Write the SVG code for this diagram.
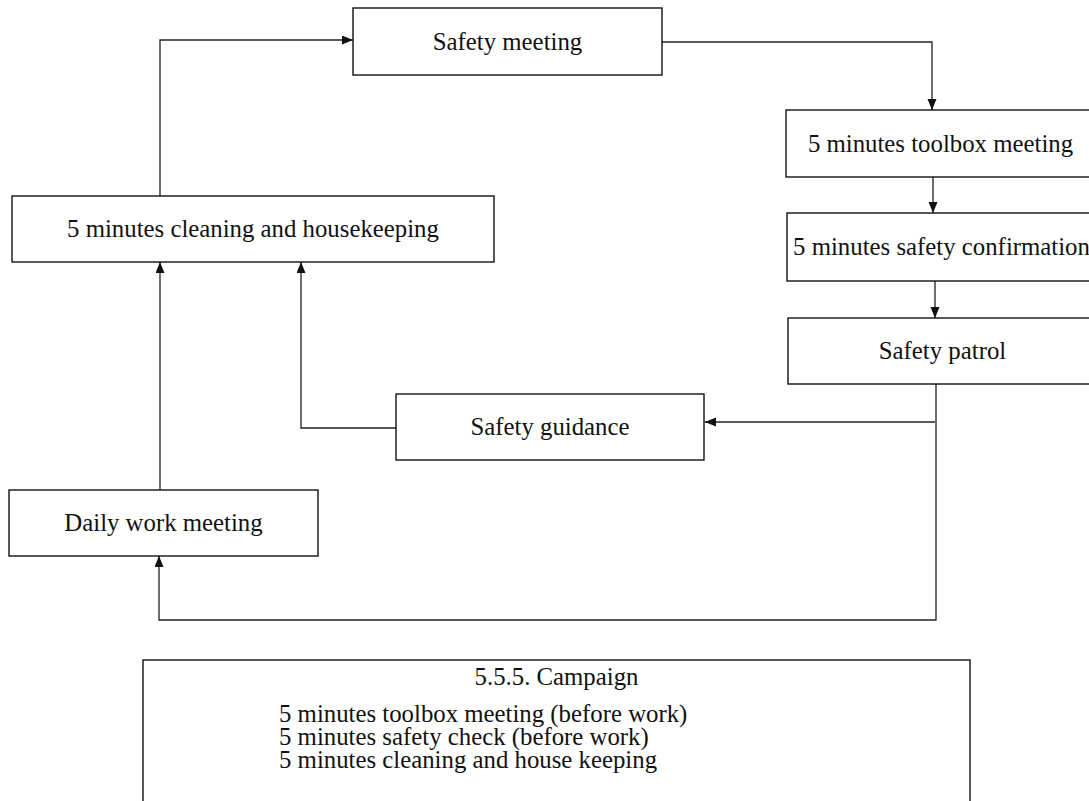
<svg xmlns="http://www.w3.org/2000/svg" width="1089" height="801" viewBox="0 0 1089 801">
<defs>
<style>
.box{fill:#fff;stroke:#111;stroke-width:1.4}
.lbl{font-family:"Liberation Serif","Times New Roman",serif;font-size:24.8px;fill:#111;text-anchor:middle}
.txt{font-family:"Liberation Serif","Times New Roman",serif;font-size:24.8px;fill:#111}
.con{fill:none;stroke:#222;stroke-width:1.3}
</style>
<marker id="arr" markerUnits="userSpaceOnUse" markerWidth="12" markerHeight="10" refX="11" refY="4.5" orient="auto">
<path d="M0,0 L11,4.5 L0,9 z" fill="#111"/>
</marker>
</defs>
<rect width="1089" height="801" fill="#fff"/>
<g id="connectors">
<path class="con" d="M160,196 V40 H353" marker-end="url(#arr)"/>
<path class="con" d="M662,42 H932 V110" marker-end="url(#arr)"/>
<path class="con" d="M933,177 V213" marker-end="url(#arr)"/>
<path class="con" d="M935,281 V318" marker-end="url(#arr)"/>
<path class="con" d="M936,384 V620 H159 V556" marker-end="url(#arr)"/>
<path class="con" d="M935,422 H705" marker-end="url(#arr)"/>
<path class="con" d="M396,428 H301 V262" marker-end="url(#arr)"/>
<path class="con" d="M160,490 V262" marker-end="url(#arr)"/>
</g>
<g id="safety-meeting">
<rect class="box" x="353" y="8" width="309" height="67"/>
<text class="lbl" x="507.5" y="50">Safety meeting</text>
</g>
<g id="toolbox-meeting">
<rect class="box" x="786" y="110" width="309" height="67"/>
<text class="lbl" x="940.5" y="152">5 minutes toolbox meeting</text>
</g>
<g id="safety-confirmation">
<rect class="box" x="787" y="213" width="309" height="68"/>
<text class="lbl" x="941.5" y="255">5 minutes safety confirmation</text>
</g>
<g id="safety-patrol">
<rect class="box" x="788" y="318" width="309" height="66"/>
<text class="lbl" x="942.5" y="359">Safety patrol</text>
</g>
<g id="safety-guidance">
<rect class="box" x="396" y="394" width="308" height="66"/>
<text class="lbl" x="550" y="435">Safety guidance</text>
</g>
<g id="cleaning-housekeeping">
<rect class="box" x="12" y="196" width="482" height="66"/>
<text class="lbl" x="253" y="237">5 minutes cleaning and housekeeping</text>
</g>
<g id="daily-work-meeting">
<rect class="box" x="9" y="490" width="309" height="66"/>
<text class="lbl" x="163.5" y="531">Daily work meeting</text>
</g>
<g id="campaign">
<rect class="box" x="143" y="660" width="827" height="160"/>
<text class="lbl" x="556.5" y="685">5.5.5. Campaign</text>
<text class="txt" x="279" y="722">5 minutes toolbox meeting (before work)</text>
<text class="txt" x="279" y="745">5 minutes safety check (before work)</text>
<text class="txt" x="279" y="768">5 minutes cleaning and house keeping</text>
</g>
</svg>
